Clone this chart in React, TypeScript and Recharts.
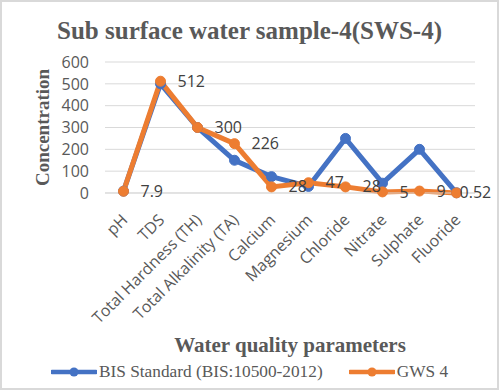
import React from "react";
import {
  LineChart,
  Line,
  XAxis,
  YAxis,
  CartesianGrid,
  Legend,
  LabelList,
  Label,
} from "recharts";

const categories = [
  "pH",
  "TDS",
  "Total Hardness (TH)",
  "Total Alkalinity (TA)",
  "Calcium",
  "Magnesium",
  "Chloride",
  "Nitrate",
  "Sulphate",
  "Fluoride",
];
const bisStandard = [8.5, 500, 300, 150, 75, 30, 250, 45, 200, 1];
const gws4 = [7.9, 512, 300, 226, 28, 47, 28, 5, 9, 0.52];
const yTicks = [0, 100, 200, 300, 400, 500, 600];

const BLUE = "#4472C4";
const ORANGE = "#ED7D31";
const TEXT = "#595959";
const SANS = "'Open Sans', 'Liberation Sans', sans-serif";
const SERIF = "'Liberation Serif', 'Times New Roman', serif";

const data = categories.map((name, i) => ({
  name,
  bis: bisStandard[i],
  gws: gws4[i],
}));

function XTick(props: any) {
  const { x, y, payload } = props;
  const px = x + 5;
  const py = y + 20;
  return (
    <text
      x={px}
      y={py}
      transform={`rotate(-45 ${px} ${py})`}
      textAnchor="end"
      fill={TEXT}
      fontSize={16}
      fontFamily={SANS}
    >
      {payload.value}
    </text>
  );
}

function YTitle(props: any) {
  const { viewBox } = props;
  const cx = viewBox.x + 49;
  const cy = viewBox.y + viewBox.height / 2;
  return (
    <text
      x={cx}
      y={cy}
      transform={`rotate(-90 ${cx} ${cy})`}
      textAnchor="middle"
      fill={TEXT}
      fontSize={19}
      fontWeight="bold"
      fontFamily={SERIF}
    >
      Concentration
    </text>
  );
}

function XTitle(props: any) {
  const { viewBox } = props;
  return (
    <text
      x={viewBox.x + viewBox.width / 2}
      y={352}
      textAnchor="middle"
      fill={TEXT}
      fontSize={21}
      fontWeight="bold"
      fontFamily={SERIF}
    >
      Water quality parameters
    </text>
  );
}

// keep value labels inside the chart like excel does
function ValueLabel(props: any) {
  const { x, y, value } = props;
  const txt = String(value);
  const w = txt.length * 8.6;
  let lx = x + 17;
  if (lx + w > 494) lx = 494 - w;
  return (
    <text
      x={lx}
      y={y}
      dy="0.35em"
      fill="#404040"
      fontSize={16}
      fontFamily={SANS}
    >
      {txt}
    </text>
  );
}

function LegendItems() {
  const items = [
    { label: "BIS Standard (BIS:10500-2012)", color: BLUE },
    { label: "GWS 4", color: ORANGE },
  ];
  return (
    <div
      style={{
        display: "flex",
        justifyContent: "center",
        alignItems: "center",
        gap: 26,
        fontFamily: SERIF,
        fontSize: 17.3,
        color: TEXT,
      }}
    >
      {items.map((it) => (
        <div key={it.label} style={{ display: "flex", alignItems: "center" }}>
          <svg width={46} height={12} style={{ marginRight: 2 }}>
            <line x1={1} y1={6} x2={45} y2={6} stroke={it.color} strokeWidth={4.5} strokeLinecap="round" />
            <circle cx={23} cy={6} r={4.5} fill={it.color} />
          </svg>
          <span>{it.label}</span>
        </div>
      ))}
    </div>
  );
}

export default function App() {
  return (
    <div
      style={{
        position: "fixed",
        left: 0,
        top: 0,
        width: 499,
        height: 390,
        background: "#fff",
      }}
    >
      <div
        style={{
          position: "absolute",
          top: 18,
          left: 0,
          width: 499,
          textAlign: "center",
          fontFamily: SERIF,
          fontWeight: "bold",
          fontSize: 25,
          lineHeight: "25px",
          color: TEXT,
        }}
      >
        Sub surface water sample-4(SWS-4)
      </div>
      <LineChart
        width={499}
        height={390}
        data={data}
        margin={{ top: 62, right: 24, bottom: 32, left: 0 }}
      >
        <CartesianGrid vertical={false} stroke="#d9d9d9" strokeWidth={1} />
        <XAxis
          dataKey="name"
          interval={0}
          height={165}
          padding={{ left: 18.5, right: 18.5 }}
          tickLine={false}
          axisLine={{ stroke: "#d9d9d9" }}
          tick={<XTick />}
        >
          <Label content={<XTitle />} />
        </XAxis>
        <YAxis
          width={105}
          domain={[0, 600]}
          ticks={yTicks}
          interval={0}
          axisLine={false}
          tickLine={false}
          tickMargin={10}
          tick={{ fill: TEXT, fontSize: 16, fontFamily: SANS }}
        >
          <Label content={<YTitle />} />
        </YAxis>
        <Legend
          layout="horizontal"
          verticalAlign="middle"
          align="center"
          wrapperStyle={{ top: 362, left: 0, width: 499 }}
          content={<LegendItems />}
        />
        <Line
          type="linear"
          dataKey="bis"
          stroke={BLUE}
          strokeWidth={5}
          dot={{ r: 5, fill: BLUE, stroke: BLUE, strokeWidth: 1 }}
          isAnimationActive={false}
        />
        <Line
          type="linear"
          dataKey="gws"
          stroke={ORANGE}
          strokeWidth={5}
          dot={{ r: 5, fill: ORANGE, stroke: ORANGE, strokeWidth: 1 }}
          isAnimationActive={false}
        >
          <LabelList dataKey="gws" content={<ValueLabel />} />
        </Line>
      </LineChart>
      <div
        style={{
          position: "absolute",
          inset: 0,
          border: "2px solid #d9d9d9",
          pointerEvents: "none",
        }}
      />
    </div>
  );
}
